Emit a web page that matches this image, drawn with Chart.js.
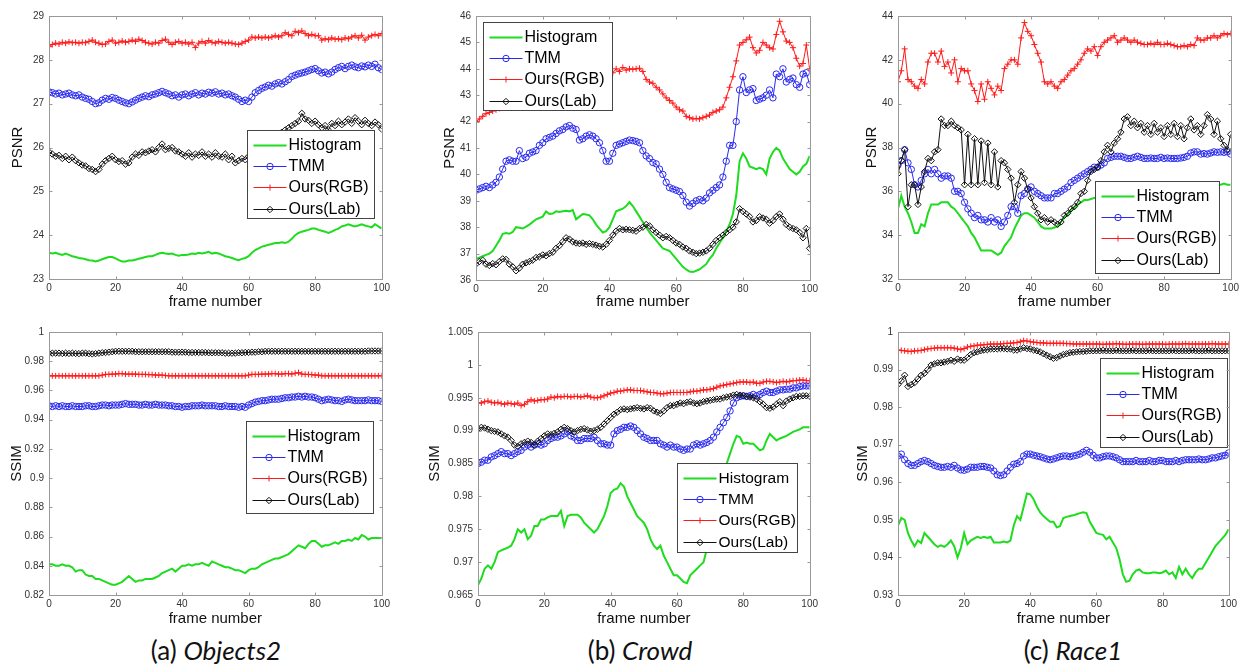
<!DOCTYPE html>
<html>
<head>
<meta charset="utf-8">
<script src="https://cdn.jsdelivr.net/npm/chart.js@4.4.1/dist/chart.umd.min.js"></script>
<style>
  html, body { margin: 0; padding: 0; background: #fff; }
  body { position: relative; width: 1240px; height: 672px; overflow: hidden; }
  canvas { position: absolute; }
  .cap { position: absolute; width: 400px; text-align: center; font-family: Lato, "Open Sans", sans-serif;
         font-size: 26px; line-height: 36px; color: #111; top: 632px; }
</style>
</head>
<body>
<div class="cap" style="left:16px">(a) <i>Objects2</i></div>
<div class="cap" style="left:440px">(b) <i>Crowd</i></div>
<div class="cap" style="left:873px">(c) <i>Race1</i></div>
<script>
// ---------------- data (frames 0..100) ----------------
const FRAMES = []; for (let i = 0; i <= 100; i++) FRAMES.push(i);
const X_TICKS = [0, 20, 40, 60, 80, 100];
const SERIES_NAMES = ['Histogram', 'TMM', 'Ours(RGB)', 'Ours(Lab)'];

// (a) Objects2 - PSNR
const OBJ_PSNR_TICKS = [23, 24, 25, 26, 27, 28, 29];
const objPsnrHist = [
  23.60,23.58,23.60,23.57,23.55,23.58,23.55,23.52,23.50,23.48,
  23.47,23.45,23.43,23.42,23.40,23.42,23.45,23.48,23.50,23.50,
  23.47,23.43,23.40,23.40,23.42,23.42,23.44,23.46,23.48,23.50,
  23.52,23.52,23.55,23.58,23.60,23.58,23.57,23.58,23.55,23.53,
  23.55,23.55,23.56,23.58,23.57,23.60,23.58,23.60,23.62,23.58,
  23.60,23.58,23.55,23.52,23.50,23.48,23.45,23.43,23.46,23.48,
  23.52,23.60,23.66,23.70,23.74,23.76,23.78,23.80,23.82,23.82,
  23.84,23.82,23.85,23.92,24.00,24.05,24.08,24.10,24.12,24.15,
  24.15,24.12,24.10,24.08,24.05,24.08,24.12,24.15,24.20,24.22,
  24.25,24.22,24.20,24.22,24.25,24.22,24.20,24.18,24.25,24.20,
  24.15];
const objPsnrTmm = [
  27.27,27.25,27.22,27.24,27.20,27.22,27.24,27.20,27.18,27.20,
  27.15,27.12,27.10,27.05,27.00,27.02,27.08,27.12,27.10,27.14,
  27.12,27.08,27.05,27.02,27.00,27.04,27.08,27.12,27.15,27.18,
  27.16,27.20,27.22,27.25,27.28,27.25,27.22,27.18,27.20,27.15,
  27.20,27.22,27.18,27.22,27.25,27.20,27.24,27.22,27.26,27.24,
  27.27,27.22,27.24,27.20,27.22,27.18,27.15,27.10,27.05,27.08,
  27.05,27.15,27.25,27.30,27.35,27.38,27.42,27.40,27.45,27.48,
  27.45,27.50,27.55,27.62,27.65,27.68,27.70,27.72,27.75,27.78,
  27.80,27.75,27.70,27.72,27.68,27.72,27.78,27.82,27.85,27.80,
  27.85,27.88,27.84,27.82,27.86,27.84,27.88,27.85,27.90,27.82,
  27.78];
const objPsnrRgb = [
  28.30,28.35,28.38,28.36,28.40,28.38,28.41,28.39,28.40,28.38,
  28.40,28.39,28.42,28.45,28.40,28.38,28.35,28.36,28.42,28.45,
  28.38,28.40,28.43,28.40,28.42,28.45,28.42,28.47,28.44,28.40,
  28.38,28.36,28.40,28.38,28.44,28.47,28.40,28.35,28.40,28.42,
  28.38,28.40,28.36,28.40,28.28,28.38,28.42,28.38,28.44,28.40,
  28.38,28.42,28.40,28.38,28.40,28.38,28.36,28.35,28.38,28.42,
  28.45,28.52,28.50,28.52,28.50,28.52,28.50,28.52,28.55,28.52,
  28.55,28.62,28.58,28.55,28.65,28.62,28.66,28.60,28.55,28.58,
  28.55,28.55,28.45,28.48,28.46,28.50,28.47,28.48,28.46,28.50,
  28.48,28.52,28.55,28.50,28.56,28.45,28.52,28.55,28.58,28.55,
  28.60];
const objPsnrLab = [
  25.90,25.85,25.80,25.82,25.75,25.80,25.72,25.78,25.70,25.65,
  25.60,25.58,25.52,25.50,25.45,25.50,25.62,25.70,25.75,25.80,
  25.72,25.68,25.70,25.62,25.65,25.78,25.85,25.82,25.90,25.88,
  25.92,25.95,25.90,26.00,26.08,25.95,25.98,26.00,25.92,25.90,
  25.85,25.80,25.88,25.78,25.85,25.82,25.90,25.80,25.85,25.78,
  25.88,25.80,25.78,25.85,25.72,25.80,25.65,25.70,25.75,25.72,
  25.80,25.85,25.90,25.95,26.00,26.05,26.10,26.15,26.20,26.30,
  26.35,26.40,26.45,26.50,26.55,26.60,26.78,26.65,26.62,26.55,
  26.60,26.52,26.45,26.50,26.40,26.55,26.50,26.60,26.52,26.58,
  26.65,26.55,26.68,26.60,26.52,26.62,26.55,26.50,26.58,26.52,
  26.42];

// (b) Crowd - PSNR
const CROWD_PSNR_TICKS = [36, 37, 38, 39, 40, 41, 42, 43, 44, 45, 46];
const crowdPsnrHist = [
  36.80,36.85,36.90,36.95,37.00,37.10,37.30,37.50,37.75,37.78,
  37.75,37.82,38.00,37.98,37.95,38.02,38.10,38.20,38.30,38.35,
  38.40,38.60,38.50,38.52,38.60,38.58,38.60,38.62,38.60,38.65,
  38.30,38.40,38.50,38.48,38.45,38.30,38.10,37.95,37.80,37.85,
  38.00,38.30,38.60,38.65,38.70,38.80,38.95,38.80,38.60,38.40,
  38.20,38.00,37.80,37.65,37.50,37.35,37.20,37.15,37.10,36.95,
  36.80,36.65,36.50,36.40,36.32,36.30,36.35,36.40,36.50,36.60,
  36.80,36.95,37.20,37.40,37.60,37.85,38.10,38.50,39.20,40.50,
  40.80,40.60,40.30,40.25,40.20,40.25,40.20,40.00,40.60,40.85,
  41.00,40.90,40.60,40.40,40.20,40.10,40.00,40.10,40.30,40.40,
  40.70];
const crowdPsnrTmm = [
  39.40,39.45,39.50,39.55,39.50,39.60,39.70,39.90,40.20,40.50,
  40.55,40.50,40.50,40.90,40.60,40.65,40.80,40.85,40.90,41.10,
  41.20,41.35,41.40,41.45,41.55,41.65,41.70,41.80,41.85,41.75,
  41.70,41.30,41.35,41.45,41.50,41.45,41.35,41.20,40.90,40.50,
  40.50,40.80,41.10,41.15,41.20,41.25,41.30,41.28,41.25,41.20,
  40.90,40.70,40.60,40.45,40.40,40.20,40.00,39.70,39.50,39.45,
  39.40,39.35,39.20,38.95,38.80,38.90,39.00,39.05,39.00,39.10,
  39.30,39.40,39.50,39.60,39.90,40.50,41.10,41.10,42.00,43.20,
  43.70,43.10,43.20,43.25,42.80,42.85,42.90,43.00,43.20,42.90,
  43.80,43.70,44.00,43.50,43.60,43.65,43.40,43.30,43.80,43.85,
  43.40];
const crowdPsnrRgb = [
  42.00,42.10,42.20,42.30,42.35,42.40,42.45,42.50,42.55,42.60,
  42.70,42.75,42.80,42.90,42.95,43.00,43.05,43.10,43.15,43.20,
  43.25,43.30,43.35,43.40,43.45,43.50,43.55,43.60,43.60,43.65,
  43.70,43.70,43.75,43.80,43.80,43.85,43.80,43.90,43.85,43.95,
  43.90,43.85,44.00,43.90,44.05,43.95,44.00,43.98,44.00,44.02,
  43.90,43.60,43.50,43.45,43.30,43.20,43.05,42.90,42.80,42.70,
  42.55,42.45,42.40,42.20,42.15,42.10,42.12,42.10,42.15,42.20,
  42.25,42.35,42.40,42.45,42.55,42.90,43.30,43.70,44.30,44.90,
  45.00,45.10,45.20,44.80,44.60,44.70,45.00,44.90,44.80,44.75,
  45.30,45.80,45.40,45.05,45.00,44.80,44.40,44.10,44.20,44.90,
  44.00];
const crowdPsnrLab = [
  36.60,36.70,36.75,36.60,36.55,36.62,36.58,36.70,36.80,36.78,
  36.60,36.50,36.35,36.45,36.60,36.65,36.70,36.75,36.85,36.88,
  36.95,36.92,37.00,37.05,37.20,37.30,37.45,37.60,37.55,37.45,
  37.40,37.38,37.40,37.35,37.38,37.35,37.32,37.28,37.25,37.35,
  37.50,37.70,37.85,37.95,37.90,37.92,37.90,37.88,37.85,37.95,
  38.00,38.10,38.05,37.90,37.80,37.70,37.60,37.65,37.60,37.50,
  37.40,37.35,37.25,37.20,37.10,37.05,37.00,37.02,37.05,37.10,
  37.20,37.35,37.50,37.60,37.70,37.80,37.90,38.00,38.20,38.70,
  38.60,38.50,38.40,38.20,38.25,38.40,38.35,38.30,38.15,38.25,
  38.40,38.50,38.30,38.10,38.00,37.95,37.90,37.80,37.60,37.95,
  37.20];

// (c) Race1 - PSNR
const RACE_PSNR_TICKS = [32, 34, 36, 38, 40, 42, 44];
const racePsnrHist = [
  35.20,35.80,35.30,35.00,34.60,34.10,34.10,34.50,34.40,35.00,
  35.40,35.40,35.40,35.50,35.50,35.50,35.30,35.20,35.00,34.80,
  34.60,34.40,34.10,33.90,33.60,33.30,33.30,33.30,33.30,33.20,
  33.10,33.20,33.50,33.70,33.90,34.30,34.60,34.90,35.00,35.00,
  34.90,34.80,34.60,34.40,34.30,34.30,34.30,34.35,34.40,34.60,
  34.80,34.95,35.10,35.25,35.40,35.50,35.60,35.60,35.65,35.70,
  35.70,35.75,35.80,35.80,35.85,35.90,35.90,35.95,35.95,36.00,
  36.00,36.05,36.05,36.00,36.05,36.10,36.10,36.05,36.10,36.10,
  36.15,36.10,36.15,36.15,36.20,36.15,36.20,36.20,36.25,36.20,
  36.25,36.25,36.20,36.25,36.30,36.25,36.30,36.30,36.35,36.30,
  36.30];
const racePsnrTmm = [
  37.20,37.40,37.90,37.30,37.00,36.30,36.20,36.50,36.80,37.00,
  36.80,37.00,36.80,36.60,36.70,36.70,36.60,36.00,36.00,35.90,
  35.50,35.20,35.00,34.80,34.90,34.70,34.70,34.60,34.80,34.60,
  34.70,34.40,34.60,34.90,35.30,35.30,35.00,35.80,35.90,36.10,
  36.20,36.00,35.90,35.80,35.70,35.70,35.70,35.90,35.90,36.00,
  36.10,36.20,36.40,36.50,36.60,36.70,36.80,36.90,37.00,37.10,
  37.10,37.20,37.30,37.50,37.55,37.60,37.60,37.60,37.55,37.50,
  37.50,37.55,37.60,37.55,37.50,37.50,37.52,37.50,37.50,37.55,
  37.50,37.52,37.50,37.50,37.50,37.52,37.55,37.60,37.75,37.80,
  37.80,37.70,37.72,37.70,37.75,37.80,37.78,37.80,37.78,37.80,
  37.70];
const racePsnrRgb = [
  41.00,41.50,42.50,41.10,41.00,40.80,40.70,41.10,40.90,41.90,
  42.30,42.30,41.90,42.40,41.70,41.90,41.40,42.00,41.00,41.60,
  41.50,41.50,40.90,40.60,40.10,40.90,40.20,41.00,40.70,40.40,
  40.80,40.60,41.60,41.80,42.00,42.00,41.80,43.00,43.70,43.30,
  43.10,42.70,42.30,41.90,41.00,40.90,41.00,40.80,40.70,41.00,
  41.10,41.30,41.50,41.60,41.80,42.00,42.30,42.50,42.40,42.60,
  42.20,42.60,42.80,42.90,43.00,43.10,42.80,42.90,43.00,42.90,
  42.80,42.90,42.80,42.75,42.70,42.70,42.75,42.70,42.80,42.70,
  42.70,42.75,42.70,42.65,42.60,42.60,42.65,42.60,42.70,42.65,
  43.00,42.90,42.90,43.00,43.00,43.10,43.00,43.10,43.20,43.15,
  43.20];
const racePsnrLab = [
  36.80,37.40,37.90,35.30,36.30,36.30,35.40,36.20,36.90,37.50,
  37.40,37.80,37.90,39.30,39.00,39.00,39.20,39.00,38.90,38.80,
  36.30,38.60,36.30,38.40,36.30,38.30,36.40,38.20,36.30,37.80,
  36.20,37.40,37.30,37.00,36.60,35.50,36.30,36.90,36.60,36.10,
  35.70,35.30,35.00,34.70,34.80,34.60,34.70,34.60,34.50,34.60,
  34.90,35.00,35.20,35.30,35.50,35.90,36.00,36.50,36.90,37.00,
  37.10,37.40,37.80,38.10,37.80,38.20,38.40,38.70,39.30,39.40,
  39.00,39.20,38.90,39.10,38.70,39.00,38.60,39.10,38.70,38.90,
  38.50,39.00,38.60,39.10,38.50,39.00,38.40,38.90,39.30,38.80,
  39.00,38.60,39.00,39.50,39.30,38.60,39.20,38.40,38.10,37.90,
  38.60];

// (a) Objects2 - SSIM
const OBJ_SSIM_TICKS = [0.82, 0.84, 0.86, 0.88, 0.9, 0.92, 0.94, 0.96, 0.98, 1];
const objSsimHist = [
  0.841,0.841,0.840,0.840,0.841,0.840,0.840,0.839,0.836,0.837,
  0.837,0.834,0.833,0.833,0.831,0.831,0.830,0.829,0.828,0.827,
  0.827,0.828,0.829,0.831,0.833,0.831,0.829,0.830,0.830,0.831,
  0.831,0.831,0.832,0.833,0.835,0.836,0.837,0.838,0.836,0.838,
  0.840,0.840,0.841,0.840,0.841,0.841,0.842,0.841,0.840,0.843,
  0.842,0.841,0.840,0.839,0.839,0.838,0.837,0.837,0.836,0.835,
  0.837,0.838,0.838,0.839,0.841,0.842,0.843,0.844,0.845,0.845,
  0.846,0.847,0.848,0.850,0.852,0.854,0.853,0.852,0.855,0.857,
  0.857,0.855,0.853,0.854,0.854,0.855,0.856,0.855,0.857,0.857,
  0.858,0.857,0.859,0.858,0.861,0.860,0.858,0.859,0.859,0.859,
  0.859];
const objSsimTmm = [
  0.9495,0.949,0.9495,0.949,0.9495,0.949,0.949,0.9495,0.949,0.949,
  0.949,0.9495,0.9495,0.949,0.949,0.9495,0.950,0.950,0.9495,0.950,
  0.950,0.950,0.9505,0.951,0.9505,0.9505,0.9505,0.950,0.950,0.9505,
  0.950,0.950,0.9505,0.950,0.950,0.950,0.9495,0.9495,0.949,0.949,
  0.9485,0.949,0.949,0.9495,0.9495,0.9495,0.950,0.9495,0.9495,0.9495,
  0.9495,0.949,0.949,0.9495,0.949,0.949,0.949,0.9485,0.949,0.9485,
  0.950,0.951,0.952,0.9525,0.953,0.953,0.9535,0.954,0.954,0.954,
  0.9545,0.955,0.955,0.9555,0.9555,0.956,0.9555,0.956,0.9555,0.9555,
  0.955,0.954,0.953,0.9535,0.954,0.9535,0.953,0.953,0.9525,0.9535,
  0.954,0.9535,0.953,0.953,0.953,0.953,0.9535,0.953,0.953,0.953,
  0.9525];
const objSsimRgb = [
  0.970,0.970,0.970,0.970,0.970,0.970,0.970,0.970,0.970,0.970,
  0.970,0.970,0.970,0.970,0.970,0.970,0.9705,0.971,0.971,0.9712,
  0.9712,0.9715,0.9715,0.9712,0.9712,0.9712,0.9712,0.971,0.971,0.971,
  0.9708,0.9708,0.9705,0.9705,0.9705,0.9702,0.970,0.970,0.970,0.970,
  0.970,0.970,0.970,0.970,0.970,0.970,0.970,0.970,0.970,0.970,
  0.970,0.970,0.970,0.970,0.970,0.970,0.970,0.970,0.970,0.970,
  0.9705,0.971,0.971,0.971,0.9712,0.9712,0.9712,0.9715,0.9715,0.9712,
  0.9712,0.9715,0.9715,0.9712,0.9718,0.9722,0.9712,0.971,0.971,0.9708,
  0.9705,0.9705,0.970,0.970,0.970,0.970,0.970,0.970,0.970,0.970,
  0.970,0.970,0.970,0.970,0.970,0.970,0.970,0.970,0.970,0.970,
  0.970];
const objSsimLab = [
  0.9855,0.9855,0.9855,0.9855,0.9853,0.9855,0.9853,0.9855,0.9853,0.9852,
  0.9855,0.9855,0.9852,0.985,0.9852,0.9855,0.9858,0.986,0.9862,0.9865,
  0.9868,0.9868,0.9868,0.9868,0.9868,0.9868,0.9865,0.9865,0.9865,0.9865,
  0.9865,0.9865,0.9865,0.9865,0.9865,0.9865,0.9865,0.9862,0.9862,0.9862,
  0.9862,0.9862,0.986,0.986,0.986,0.986,0.986,0.986,0.9858,0.9858,
  0.9858,0.9858,0.9858,0.9855,0.9855,0.9855,0.9855,0.9858,0.9858,0.986,
  0.986,0.9862,0.9862,0.9865,0.9865,0.9868,0.9868,0.9868,0.9868,0.9868,
  0.9868,0.9868,0.9868,0.9868,0.9868,0.9868,0.9868,0.9868,0.9868,0.9868,
  0.9868,0.9868,0.9868,0.9868,0.9868,0.9868,0.9868,0.9868,0.9868,0.9868,
  0.9868,0.9868,0.9868,0.9868,0.9868,0.9868,0.987,0.987,0.987,0.987,
  0.987];

// (b) Crowd - SSIM
const CROWD_SSIM_TICKS = [0.965, 0.97, 0.975, 0.98, 0.985, 0.99, 0.995, 1, 1.005];
const crowdSsimHist = [
  0.9665,0.9675,0.969,0.9695,0.969,0.970,0.9715,0.9718,0.972,0.9722,
  0.9725,0.9735,0.975,0.9745,0.975,0.9735,0.974,0.9755,0.9755,0.9765,
  0.9765,0.9768,0.977,0.977,0.977,0.9778,0.9755,0.977,0.9772,0.9772,
  0.9772,0.9768,0.976,0.9755,0.975,0.9745,0.975,0.976,0.977,0.9785,
  0.9805,0.981,0.9812,0.982,0.9815,0.980,0.979,0.978,0.977,0.9765,
  0.976,0.975,0.9735,0.9725,0.972,0.9725,0.971,0.970,0.969,0.968,
  0.968,0.9675,0.967,0.9668,0.968,0.9685,0.969,0.9695,0.970,0.972,
  0.9745,0.977,0.979,0.981,0.983,0.985,0.9865,0.988,0.9892,0.989,
  0.988,0.9882,0.988,0.988,0.9875,0.987,0.9872,0.9885,0.9895,0.989,
  0.9885,0.9888,0.989,0.9892,0.9895,0.9898,0.990,0.9902,0.9905,0.9905,
  0.9905];
const crowdSsimTmm = [
  0.985,0.9852,0.9855,0.9855,0.986,0.9862,0.9865,0.9868,0.9865,0.9865,
  0.9862,0.9865,0.9868,0.987,0.9875,0.9878,0.9875,0.9878,0.988,0.9878,
  0.988,0.9885,0.9888,0.989,0.989,0.9892,0.9895,0.9898,0.9892,0.989,
  0.9885,0.9885,0.9888,0.9888,0.9888,0.989,0.9885,0.988,0.988,0.9878,
  0.9878,0.9895,0.990,0.9902,0.9905,0.9905,0.9907,0.9905,0.990,0.9895,
  0.989,0.9888,0.9885,0.9885,0.9885,0.988,0.9878,0.9875,0.9878,0.9875,
  0.9875,0.9872,0.987,0.9872,0.9872,0.9878,0.988,0.9878,0.988,0.9882,
  0.9885,0.989,0.9898,0.9905,0.9912,0.992,0.993,0.9942,0.995,0.9952,
  0.9953,0.9952,0.9953,0.9955,0.9953,0.9955,0.9958,0.996,0.9958,0.9958,
  0.996,0.9962,0.9962,0.9963,0.9963,0.9965,0.9965,0.9967,0.9968,0.9968,
  0.9968];
const crowdSsimRgb = [
  0.9942,0.9942,0.9944,0.9945,0.9943,0.9942,0.9943,0.9941,0.994,0.9942,
  0.9941,0.994,0.9942,0.9938,0.994,0.9944,0.9947,0.9945,0.9946,0.9947,
  0.9947,0.9948,0.9951,0.995,0.9952,0.9951,0.9952,0.9952,0.9951,0.9952,
  0.9952,0.9951,0.9952,0.9953,0.9951,0.995,0.995,0.9951,0.9953,0.9955,
  0.9957,0.9958,0.996,0.996,0.9961,0.9962,0.9962,0.9961,0.9961,0.9961,
  0.996,0.9959,0.9958,0.9958,0.9957,0.9956,0.9956,0.9957,0.9958,0.9958,
  0.9958,0.9958,0.9958,0.9958,0.9959,0.996,0.996,0.9961,0.9962,0.9962,
  0.9963,0.9964,0.9966,0.9968,0.9969,0.997,0.9971,0.9972,0.9973,0.9974,
  0.9974,0.9974,0.9973,0.9974,0.9972,0.9972,0.9974,0.9975,0.9975,0.9974,
  0.9973,0.9974,0.9975,0.9974,0.9975,0.9976,0.9976,0.9977,0.9977,0.9976,
  0.9976];
const crowdSsimLab = [
  0.9903,0.9905,0.9904,0.9902,0.990,0.9899,0.9898,0.9895,0.9892,0.989,
  0.9885,0.9878,0.9876,0.988,0.9882,0.9884,0.9882,0.9878,0.9884,0.9888,
  0.9892,0.9895,0.9894,0.9896,0.9898,0.9902,0.9905,0.9903,0.990,0.9898,
  0.990,0.9902,0.9903,0.9901,0.9899,0.990,0.9902,0.9905,0.991,0.9915,
  0.992,0.9925,0.9928,0.9932,0.9933,0.9932,0.9933,0.9934,0.9935,0.9934,
  0.9933,0.9935,0.9934,0.993,0.9928,0.9926,0.993,0.9935,0.9938,0.9938,
  0.994,0.9942,0.9941,0.9943,0.9944,0.9942,0.9941,0.9942,0.9944,0.9945,
  0.9946,0.9947,0.9948,0.9948,0.995,0.9951,0.9952,0.9954,0.9955,0.9954,
  0.9953,0.9952,0.9951,0.995,0.9948,0.9944,0.994,0.9935,0.9934,0.9936,
  0.994,0.9944,0.9938,0.9945,0.9948,0.995,0.9952,0.9952,0.9953,0.9953,
  0.9952];

// (c) Race1 - SSIM
const RACE_SSIM_TICKS = [0.93, 0.94, 0.95, 0.96, 0.97, 0.98, 0.99, 1];
const raceSsimHist = [
  0.9485,0.9505,0.950,0.9465,0.9445,0.943,0.9445,0.9438,0.9465,0.9455,
  0.9445,0.9435,0.9428,0.9432,0.9428,0.9435,0.9445,0.943,0.940,0.9425,
  0.9465,0.9435,0.9445,0.945,0.9455,0.9452,0.9455,0.9452,0.9455,0.944,
  0.944,0.944,0.9442,0.944,0.9445,0.9485,0.951,0.950,0.9535,0.957,
  0.9568,0.9555,0.9535,0.952,0.951,0.9502,0.9495,0.9495,0.948,0.9483,
  0.9505,0.9508,0.951,0.9512,0.9515,0.9518,0.952,0.9518,0.9495,0.948,
  0.9465,0.9462,0.946,0.9448,0.9455,0.944,0.9425,0.9395,0.9355,0.9335,
  0.9338,0.9355,0.9365,0.9368,0.936,0.9358,0.9358,0.936,0.936,0.9358,
  0.936,0.9365,0.9355,0.936,0.9345,0.9375,0.9355,0.937,0.9355,0.9345,
  0.936,0.937,0.937,0.9385,0.940,0.9415,0.943,0.944,0.945,0.946,
  0.9475];
const raceSsimTmm = [
  0.967,0.9675,0.966,0.965,0.9645,0.9645,0.965,0.9655,0.9658,0.9655,
  0.965,0.9645,0.9642,0.964,0.964,0.9642,0.964,0.9645,0.9638,0.9633,
  0.9632,0.9635,0.964,0.964,0.964,0.9642,0.9642,0.964,0.9638,0.963,
  0.962,0.9618,0.962,0.963,0.964,0.9648,0.965,0.9655,0.967,0.9675,
  0.9675,0.9672,0.967,0.9668,0.9665,0.9662,0.966,0.9662,0.9665,0.9668,
  0.967,0.967,0.9668,0.967,0.9672,0.9675,0.968,0.9685,0.968,0.9672,
  0.9665,0.9665,0.9668,0.967,0.967,0.9668,0.9665,0.966,0.9655,0.9655,
  0.9655,0.9655,0.9658,0.9655,0.9655,0.9655,0.9658,0.9655,0.9655,0.9658,
  0.9658,0.9655,0.9655,0.9655,0.9658,0.9655,0.9658,0.966,0.966,0.966,
  0.966,0.9662,0.966,0.966,0.9662,0.9665,0.9665,0.9668,0.967,0.9672,
  0.9678];
const raceSsimRgb = [
  0.9952,0.9951,0.995,0.9949,0.9948,0.995,0.995,0.9951,0.9953,0.9955,
  0.9956,0.9957,0.9958,0.9958,0.9958,0.9958,0.9958,0.9957,0.9955,0.9953,
  0.9956,0.996,0.9962,0.9963,0.9965,0.9965,0.9966,0.9967,0.9968,0.9968,
  0.9968,0.9968,0.9969,0.997,0.997,0.9971,0.9972,0.9974,0.9977,0.9976,
  0.9974,0.9973,0.9972,0.9971,0.9971,0.997,0.997,0.997,0.997,0.997,
  0.997,0.9969,0.9969,0.9968,0.9968,0.9968,0.9968,0.9968,0.9968,0.9968,
  0.9968,0.9968,0.9967,0.9968,0.9968,0.9968,0.9969,0.9968,0.9968,0.9967,
  0.9968,0.9968,0.9968,0.9968,0.9967,0.9968,0.9968,0.9968,0.9968,0.9968,
  0.9968,0.9967,0.9968,0.9968,0.9968,0.9968,0.9968,0.9969,0.9968,0.9968,
  0.9968,0.9968,0.9968,0.9968,0.9968,0.9969,0.9968,0.9968,0.9968,0.9968,
  0.9968];
const raceSsimLab = [
  0.986,0.987,0.9885,0.9855,0.986,0.9865,0.9875,0.9885,0.989,0.990,
  0.9912,0.9915,0.9918,0.9918,0.992,0.9922,0.9925,0.9922,0.9928,0.9925,
  0.9925,0.9932,0.994,0.9945,0.9947,0.995,0.9952,0.9953,0.9955,0.9955,
  0.9955,0.9956,0.9956,0.9955,0.9955,0.9952,0.9952,0.9955,0.9958,0.9956,
  0.9955,0.9952,0.995,0.9947,0.9942,0.9938,0.9934,0.993,0.9932,0.9936,
  0.994,0.9942,0.9945,0.9946,0.9947,0.9948,0.9948,0.9949,0.995,0.995,
  0.995,0.995,0.9951,0.995,0.995,0.995,0.9951,0.995,0.995,0.995,
  0.995,0.9951,0.995,0.995,0.995,0.995,0.9951,0.995,0.995,0.995,
  0.995,0.995,0.995,0.9951,0.995,0.995,0.995,0.995,0.995,0.9951,
  0.995,0.995,0.995,0.995,0.9951,0.995,0.995,0.995,0.995,0.995,
  0.995];

// ---------------- styling ----------------
const FONT = '"Liberation Sans", Arial, sans-serif';
const FRAME_GREY = '#999999';
const STYLES = [
  { color: '#1edc1e', width: 2, point: false,     radius: 0 },
  { color: '#2a2af0', width: 1, point: 'circle',  radius: 3.2 },
  { color: '#ff1a1a', width: 1, point: 'cross',   radius: 3 },
  { color: '#111111', width: 1, point: 'rectRot', radius: 3.2 },
];

// page-pixel plot boxes [left, top, right, bottom], title spots, legend boxes
const PANELS = [
  { box: [49, 16, 383, 279],  ticks: OBJ_PSNR_TICKS,   series: [objPsnrHist, objPsnrTmm, objPsnrRgb, objPsnrLab],
    yTitle: 'PSNR', yTitleX: 18,  xTitleY: 302, legend: { x: 198, y: 114, w: 127, h: 88, font: 16 } },
  { box: [476, 16, 811, 280], ticks: CROWD_PSNR_TICKS, series: [crowdPsnrHist, crowdPsnrTmm, crowdPsnrRgb, crowdPsnrLab],
    yTitle: 'PSNR', yTitleX: 450, xTitleY: 302, legend: { x: 7, y: 6, w: 129, h: 88, font: 16 } },
  { box: [898, 16, 1232, 279], ticks: RACE_PSNR_TICKS, series: [racePsnrHist, racePsnrTmm, racePsnrRgb, racePsnrLab],
    yTitle: 'PSNR', yTitleX: 872, xTitleY: 302, legend: { x: 197, y: 165, w: 124, h: 92, font: 16 } },
  { box: [49, 332, 383, 595],  ticks: OBJ_SSIM_TICKS,   series: [objSsimHist, objSsimTmm, objSsimRgb, objSsimLab],
    yTitle: 'SSIM', yTitleX: 17,  xTitleY: 619, legend: { x: 197, y: 89, w: 127, h: 92, font: 16 } },
  { box: [478, 332, 811, 595], ticks: CROWD_SSIM_TICKS, series: [crowdSsimHist, crowdSsimTmm, crowdSsimRgb, crowdSsimLab],
    yTitle: 'SSIM', yTitleX: 435, xTitleY: 619, legend: { x: 199, y: 131, w: 120, h: 89, font: 15.5 } },
  { box: [898, 332, 1230, 595], ticks: RACE_SSIM_TICKS, series: [raceSsimHist, raceSsimTmm, raceSsimRgb, raceSsimLab],
    yTitle: 'SSIM', yTitleX: 863, xTitleY: 619, legend: { x: 202, y: 26, w: 127, h: 89, font: 16 } },
];

const fmt = v => String(parseFloat(Number(v).toFixed(4)));

// matlab-style box with inward ticks on all four sides
const frameBox = {
  id: 'frameBox',
  afterDraw(chart) {
    const { ctx, chartArea: a, scales } = chart;
    const L = Math.round(a.left) + 0.5, T = Math.round(a.top) + 0.5;
    const R = Math.round(a.right) + 0.5, B = Math.round(a.bottom) + 0.5;
    ctx.save();
    ctx.strokeStyle = FRAME_GREY; ctx.lineWidth = 1;
    ctx.strokeRect(L, T, R - L, B - T);
    ctx.beginPath();
    scales.x.ticks.forEach(t => {
      const px = Math.round(scales.x.getPixelForValue(t.value)) + 0.5;
      ctx.moveTo(px, B); ctx.lineTo(px, B - 3);
      ctx.moveTo(px, T); ctx.lineTo(px, T + 3);
    });
    scales.y.ticks.forEach(t => {
      const py = Math.round(scales.y.getPixelForValue(t.value)) + 0.5;
      ctx.moveTo(L, py); ctx.lineTo(L + 3, py);
      ctx.moveTo(R, py); ctx.lineTo(R - 3, py);
    });
    ctx.stroke();
    ctx.restore();
  }
};

// legend box drawn inside the axes
const boxLegend = {
  id: 'boxLegend',
  afterDatasetsDraw(chart, args, o) {
    const { ctx, chartArea: a } = chart;
    const x = Math.round(a.left + o.x) + 0.5, y = Math.round(a.top + o.y) + 0.5;
    ctx.save();
    ctx.fillStyle = '#fff'; ctx.fillRect(x, y, o.w, o.h);
    ctx.strokeStyle = '#444'; ctx.lineWidth = 1; ctx.strokeRect(x, y, o.w, o.h);
    chart.data.datasets.forEach((ds, i) => {
      const yy = Math.round(y + 14 + i * 21.4) + 0.5;
      ctx.strokeStyle = ds.borderColor; ctx.lineWidth = ds.borderWidth;
      ctx.beginPath(); ctx.moveTo(x + 6, yy); ctx.lineTo(x + 39, yy); ctx.stroke();
      if (ds.pointStyle) {
        ctx.lineWidth = 1; ctx.fillStyle = 'rgba(0,0,0,0)';
        Chart.helpers.drawPoint(ctx, { pointStyle: ds.pointStyle, radius: ds.pointRadius, borderWidth: 1, rotation: 0 }, x + 22.5, yy);
      }
      ctx.fillStyle = '#000';
      ctx.font = o.font + 'px ' + FONT;
      ctx.textBaseline = 'middle';
      ctx.fillText(ds.label, x + 41, yy + 0.5);
    });
    ctx.restore();
  }
};

const Y_W = 60, X_H = 45, PAD_T = 12, PAD_R = 10;

PANELS.forEach(p => {
  const [L, T, R, B] = p.box;
  const cw = R - L + Y_W + PAD_R, ch = B - T + PAD_T + X_H;
  const cv = document.createElement('canvas');
  cv.width = cw; cv.height = ch;
  cv.style.left = (L - Y_W) + 'px'; cv.style.top = (T - PAD_T) + 'px';
  cv.style.width = cw + 'px'; cv.style.height = ch + 'px';
  document.body.appendChild(cv);

  const yTitlePad = p.yTitleX - (L - Y_W) - 9;
  const xTitlePad = ch - 9 - (p.xTitleY - (T - PAD_T));
  const yt = p.ticks;

  const datasets = p.series.map((vals, i) => {
    const s = STYLES[i];
    return {
      label: SERIES_NAMES[i],
      data: vals.map((v, k) => ({ x: FRAMES[k], y: v })),
      borderColor: s.color,
      borderWidth: s.width,
      pointStyle: s.point,
      pointRadius: s.radius,
      pointBorderColor: s.color,
      pointBackgroundColor: 'rgba(0,0,0,0)',
      pointBorderWidth: 1,
      tension: 0,
      order: 4 - i,
    };
  });

  new Chart(cv, {
    type: 'line',
    data: { datasets },
    plugins: [boxLegend, frameBox],
    options: {
      responsive: false,
      animation: false,
      devicePixelRatio: 1,
      layout: { padding: { left: 0, top: PAD_T, right: PAD_R, bottom: 0 } },
      plugins: {
        legend: { display: false },
        tooltip: { enabled: false },
        boxLegend: p.legend,
      },
      scales: {
        x: {
          type: 'linear', min: 0, max: 100,
          afterBuildTicks: s => { s.ticks = X_TICKS.map(v => ({ value: v })); },
          afterFit: s => { s.height = X_H; },
          grid: { display: false, drawTicks: false },
          border: { display: false },
          ticks: { padding: 3, maxRotation: 0, autoSkip: false, color: '#333', font: { size: 10, family: FONT }, callback: v => fmt(v) },
          title: { display: true, text: 'frame number', color: '#111', font: { size: 15, family: FONT }, padding: { top: 0, bottom: xTitlePad } },
        },
        y: {
          type: 'linear', min: yt[0], max: yt[yt.length - 1],
          afterBuildTicks: s => { s.ticks = yt.map(v => ({ value: v })); },
          afterFit: s => { s.width = Y_W; },
          grid: { display: false, drawTicks: false },
          border: { display: false },
          ticks: { padding: 5, color: '#333', font: { size: 10, family: FONT }, callback: v => fmt(v) },
          title: { display: true, text: p.yTitle, color: '#111', font: { size: 15, family: FONT }, padding: { top: yTitlePad, bottom: 0 } },
        },
      },
    },
  });
});
</script>
</body>
</html>
